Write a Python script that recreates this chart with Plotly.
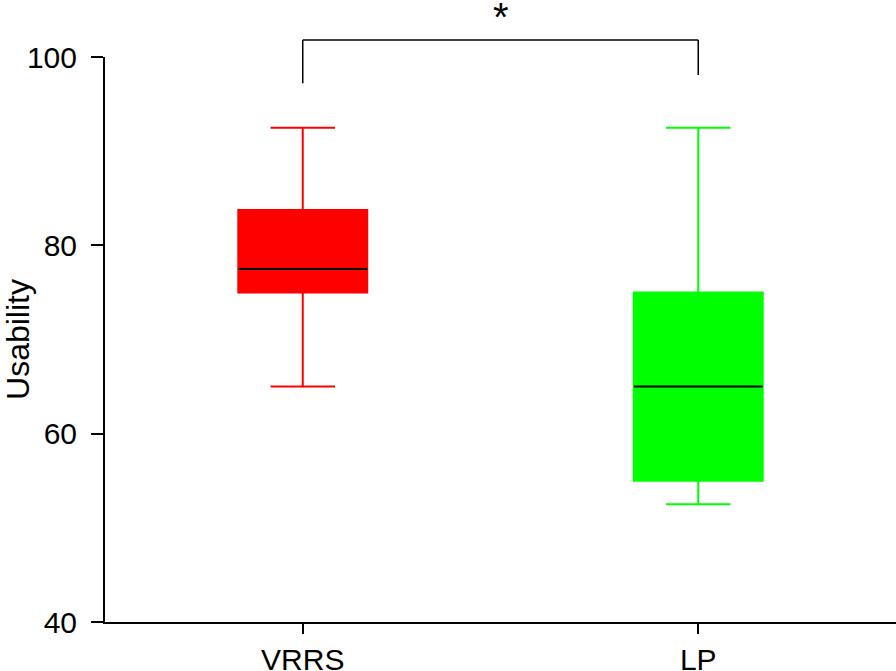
import plotly.graph_objects as go

# Box summary values (usability score)
groups = ["VRRS", "LP"]
lower_whisker = [65.0, 52.5]
q1 = [75.0, 55.0]
median = [77.5, 65.0]
q3 = [83.75, 75.0]
upper_whisker = [92.5, 92.5]
colors = ["#FF0000", "#00FF00"]

positions = list(range(len(groups)))
box_w = 0.326
y_min, y_max = 40, 100

fig = go.Figure()

for i, name in enumerate(groups):
    fig.add_trace(go.Box(
        x=[positions[i]],
        q1=[q1[i]],
        median=[median[i]],
        q3=[q3[i]],
        lowerfence=[lower_whisker[i]],
        upperfence=[upper_whisker[i]],
        name=name,
        width=box_w,
        whiskerwidth=0.5,
        fillcolor=colors[i],
        line=dict(color=colors[i], width=2),
        boxpoints=False,
        showlegend=False,
    ))

# black median lines on top of the boxes
shapes = []
for i in positions:
    shapes.append(dict(
        type="line", xref="x", yref="y",
        x0=i - box_w / 2, x1=i + box_w / 2,
        y0=median[i], y1=median[i],
        line=dict(color="black", width=2), layer="above",
    ))

# significance bracket above the plot area
def to_paper(v):
    return (v - y_min) / (y_max - y_min)

bracket_top = to_paper(101.8)
bracket_line = dict(color="black", width=1.5)
shapes.append(dict(type="line", xref="x", yref="paper",
                   x0=positions[0], x1=positions[1], y0=bracket_top, y1=bracket_top,
                   line=bracket_line))
shapes.append(dict(type="line", xref="x", yref="paper",
                   x0=positions[0], x1=positions[0], y0=to_paper(97.2), y1=bracket_top,
                   line=bracket_line))
shapes.append(dict(type="line", xref="x", yref="paper",
                   x0=positions[1], x1=positions[1], y0=to_paper(98.1), y1=bracket_top,
                   line=bracket_line))

fig.add_annotation(
    x=0.5, xref="x", y=1 + 57 / 565, yref="paper",
    yanchor="top", yshift=7, text="*", showarrow=False,
    font=dict(size=40, color="black"),
)

fig.update_layout(
    width=896, height=671,
    plot_bgcolor="white", paper_bgcolor="white",
    font=dict(family="Liberation Sans, Arial, sans-serif", color="black"),
    margin=dict(l=105, r=0, t=57, b=49, autoexpand=False),
    shapes=shapes,
    showlegend=False,
)

fig.update_xaxes(
    range=[-0.5, 1.5],
    tickvals=positions, ticktext=groups,
    showline=True, linecolor="black", linewidth=2,
    ticks="outside", ticklen=10, tickwidth=2, tickcolor="black",
    showgrid=False, zeroline=False,
    tickfont=dict(size=30),
    ticklabelstandoff=0,
    automargin=False,
)

fig.update_yaxes(
    range=[y_min, y_max], dtick=20,
    showline=True, linecolor="black", linewidth=2,
    ticks="outside", ticklen=12, tickwidth=2, tickcolor="black",
    showgrid=False, zeroline=False,
    tickfont=dict(size=30),
    ticklabelstandoff=8,
    automargin=False,
    title=dict(text="Usability", font=dict(size=32), standoff=1),
)

# drop the default page margin so the figure sits at the window's corner
fig.write_html(
    "out.html",
    config={"displayModeBar": False},
    post_script="document.body.style.margin='0';",
)
